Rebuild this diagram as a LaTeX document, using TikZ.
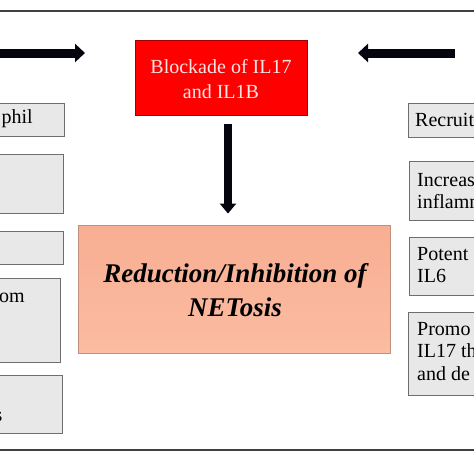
\documentclass[tikz,border=0pt]{standalone}
\usepackage{fontspec}
\setmainfont{Liberation Serif}
\usetikzlibrary{arrows.meta}
\definecolor{boxgray}{HTML}{E8E8E8}
\definecolor{boxline}{HTML}{6E6E6E}
\definecolor{blockred}{HTML}{FF0000}
\definecolor{blockline}{HTML}{A00000}
\definecolor{salmontop}{HTML}{F8AE92}
\definecolor{salmonbot}{HTML}{FBBCA2}
\definecolor{salmonline}{HTML}{C0907C}
\definecolor{paletext}{HTML}{FFE4E4}
\definecolor{framegray}{HTML}{404040}
\definecolor{arrowink}{HTML}{05050F}
\begin{document}
\begin{tikzpicture}[x=1pt,y=-1pt,
  sidebox/.style={draw=boxline, fill=boxgray, line width=0.9pt, inner sep=0pt},
  sidetext/.style={inner sep=0pt, font=\fontsize{20}{21.5}\selectfont, align=left},
  fatarrow/.style={draw=arrowink, line width=9pt, -{Triangle[length=10pt,width=18pt]}},
  downarrow/.style={draw=arrowink, line width=7.5pt, -{Triangle[length=10pt,width=16pt]}}]
\useasboundingbox (0,0) rectangle (474,474);
\clip (0,0) rectangle (474,474);
\fill[white] (0,0) rectangle (474,474);
% outer frame
\draw[framegray, line width=1.3pt] (-5,11) rectangle (479,450);
% left boxes
\node[sidebox, minimum width=104pt, minimum height=33pt] (L1) at (12,119.5) {};
\node[sidebox, minimum width=103pt, minimum height=59pt] (L2) at (11.5,183.5) {};
\node[sidebox, minimum width=103pt, minimum height=33pt] (L3) at (11.5,247.5) {};
\node[sidebox, minimum width=100pt, minimum height=84pt] (L4) at (10,320) {};
\node[sidebox, minimum width=102pt, minimum height=58pt] (L5) at (11,404) {};
% right boxes
\node[sidebox, minimum width=112pt, minimum height=34pt] (R1) at (464,120) {};
\node[sidebox, minimum width=111pt, minimum height=59pt] (R2) at (464.5,190.5) {};
\node[sidebox, minimum width=111pt, minimum height=58pt] (R3) at (464.5,266) {};
\node[sidebox, minimum width=112pt, minimum height=83pt] (R4) at (464,353.5) {};
% texts of side boxes (base anchor = last line)
\node[sidetext, anchor=base east] (tL1) at (33,123) {phil};
\node[sidetext, anchor=base east] (tL4) at (25,302) {om};
\node[sidetext, anchor=base east] (tL5) at (2.5,421) {s};
\node[sidetext, anchor=base west] (tR1) at (415,126) {Recruit};
\node[sidetext, anchor=base west] (tR2) at (417,208) {Increas\\inflamm};
\node[sidetext, anchor=base west] (tR3) at (417,282) {Potent\\IL6};
\node[sidetext, anchor=base west, font=\fontsize{20}{22.5}\selectfont] (tR4) at (417,380) {Promo\\IL17 th\\and de};
% central boxes
\node[draw=blockline, fill=blockred, line width=0.9pt, minimum width=172pt, minimum height=75pt, inner sep=0pt] (block) at (221,77.5) {};
\node[anchor=base, inner sep=0pt, align=center, text=paletext, font=\fontsize{20}{25}\selectfont] (tblock) at (221,98) {Blockade of IL17\\and IL1B};
\node[draw=salmonline, top color=salmontop, bottom color=salmonbot, line width=0.9pt, minimum width=312pt, minimum height=128pt, inner sep=0pt] (netosis) at (234,289) {};
\node[anchor=base, inner sep=0pt, align=center, font=\bfseries\itshape\fontsize{27}{34}\selectfont] (tnet) at (235,316) {Reduction/Inhibition of\\NETosis};
% arrows
\coordinate (lstart) at (-5,53);
\coordinate (ltip) at (85,53);
\coordinate (rstart) at (455,53);
\coordinate (rtip) at (358,53);
\draw[fatarrow] (lstart) -- (ltip);
\draw[fatarrow] (rstart) -- (rtip);
\draw[downarrow] ([xshift=7pt,yshift=-9pt]block.south) -- ([xshift=-6pt,yshift=11pt]netosis.north);
\end{tikzpicture}
\end{document}
